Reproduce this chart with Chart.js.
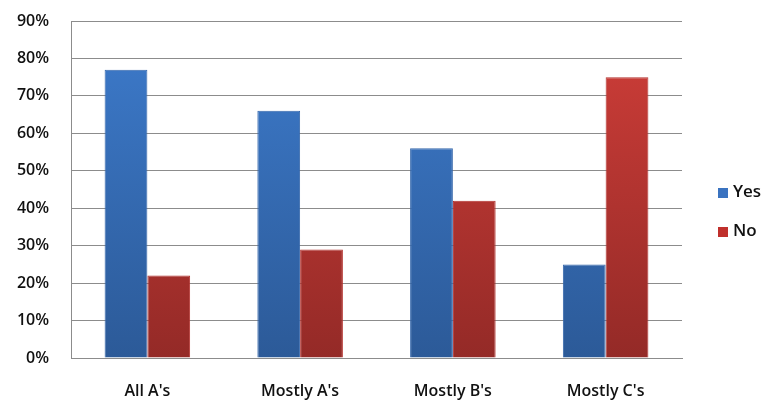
<!DOCTYPE html>
<html>
<head>
<meta charset="utf-8">
<script src="https://cdn.jsdelivr.net/npm/chart.js@4/dist/chart.umd.min.js"></script>
<style>
html,body{margin:0;padding:0;background:#fff;}
#wrap{width:766px;height:402px;position:relative;}
</style>
</head>
<body>
<div id="wrap"><canvas id="c" width="766" height="402"></canvas></div>
<script>
const categories = ["All A's", "Mostly A's", "Mostly B's", "Mostly C's"];
const seriesNames = ["Yes", "No"];
const yesValues = [77, 66, 56, 25];
const noValues = [22, 29, 42, 75];
const yTickMax = 90;
const yTickStep = 10;

const FONT = "'Open Sans', 'DejaVu Sans', sans-serif";

function grad(ctx, top, bottom) {
  const chart = ctx.chart;
  const area = chart.chartArea;
  if (!area) return top;
  const g = chart.ctx.createLinearGradient(0, area.top, 0, area.bottom);
  g.addColorStop(0, top);
  g.addColorStop(1, bottom);
  return g;
}

const legendPlugin = {
  id: 'customLegend',
  afterDraw(chart) {
    const c = chart.ctx;
    const items = [
      {label: seriesNames[0], color: '#3a73c0', y: 192},
      {label: seriesNames[1], color: '#c0302c', y: 231}
    ];
    c.save();
    c.font = "600 17px " + FONT;
    c.textBaseline = 'middle';
    items.forEach(it => {
      c.fillStyle = it.color;
      c.fillRect(718, it.y - 4, 10, 10);
      c.fillStyle = '#111';
      c.fillText(it.label, 733, it.y);
    });
    c.restore();
  }
};

new Chart(document.getElementById('c'), {
  type: 'bar',
  data: {
    labels: categories,
    datasets: [
      {
        label: seriesNames[0],
        data: yesValues,
        backgroundColor: ctx => grad(ctx, '#3d7bcc', '#2c5a98'),
        borderColor: '#3567ab',
        borderWidth: 1,
        categoryPercentage: 0.56,
        barPercentage: 1.0
      },
      {
        label: seriesNames[1],
        data: noValues,
        backgroundColor: ctx => grad(ctx, '#d03e39', '#942a27'),
        borderColor: '#b3312d',
        borderWidth: 1,
        categoryPercentage: 0.56,
        barPercentage: 1.0
      }
    ]
  },
  options: {
    responsive: false,
    animation: false,
    devicePixelRatio: 1,
    layout: {padding: {top: 21, right: 84, bottom: 0, left: 0}},
    plugins: {
      legend: {display: false},
      tooltip: {enabled: false}
    },
    scales: {
      x: {
        grid: {display: false, drawTicks: false},
        border: {display: true, color: '#8c8c8c', width: 1},
        ticks: {
          color: '#111',
          font: {family: FONT, size: 16, weight: '600'},
          padding: 24
        },
        afterFit(scale) { scale.height = 44; scale.paddingLeft = 0; scale.paddingRight = 0; }
      },
      y: {
        min: 0,
        max: yTickMax,
        grid: {color: '#8c8c8c', lineWidth: 1, drawTicks: false},
        border: {display: true, color: '#8c8c8c', width: 1},
        ticks: {
          stepSize: yTickStep,
          color: '#111',
          font: {family: FONT, size: 16, weight: '600'},
          padding: 22,
          callback: v => v + '%'
        },
        afterFit(scale) { scale.width = 71; scale.paddingTop = 0; scale.paddingBottom = 0; }
      }
    }
  },
  plugins: [legendPlugin]
});
</script>
</body>
</html>
